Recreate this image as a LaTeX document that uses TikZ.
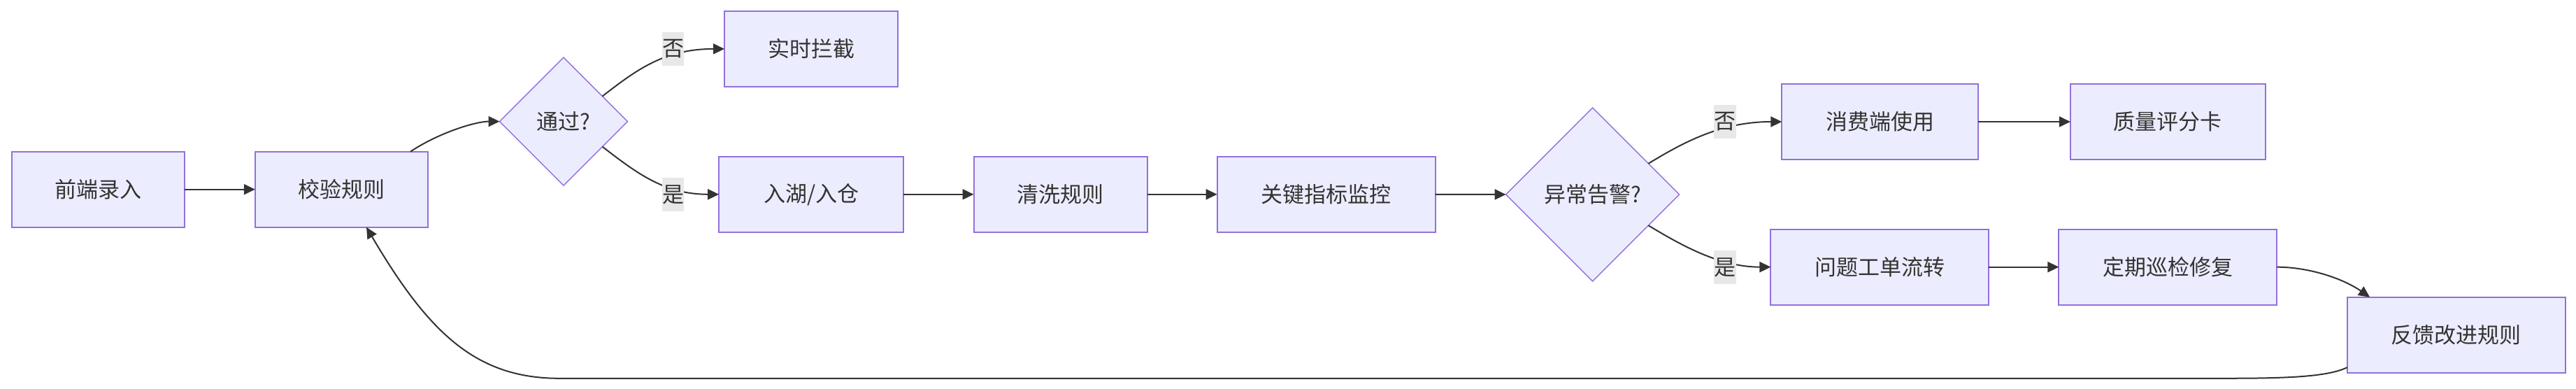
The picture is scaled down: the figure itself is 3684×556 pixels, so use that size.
\documentclass[tikz,border=0pt]{standalone}
\usepackage{fontspec}
\setmainfont{Noto Sans CJK SC}
\usetikzlibrary{shapes.geometric,arrows.meta}
\definecolor{mfill}{HTML}{ECECFF}
\definecolor{mborder}{HTML}{9370DB}
\definecolor{mline}{HTML}{333333}
\definecolor{mlabel}{HTML}{E8E8E8}
\begin{document}
\begin{tikzpicture}[x=1pt,y=-1pt,
  txt/.style={text=mline, font=\fontsize{31}{37}\selectfont},
  box/.style={txt, draw=mborder, fill=mfill, line width=2pt, minimum height=108pt, inner sep=0pt, outer sep=0pt},
  decision/.style={txt, diamond, aspect=1, draw=mborder, fill=mfill, line width=1.5pt, inner sep=0pt, outer sep=0pt},
  edgelbl/.style={txt, fill=mlabel, inner xsep=0pt, inner ysep=0pt, minimum width=31.5pt, minimum height=48pt},
  flow/.style={draw=mline, line width=2pt, -{Triangle[length=16pt,width=15pt]}}
]
\path[use as bounding box] (0,0) rectangle (3684,556);

% nodes
\node[box, minimum width=247pt] (A) at (140,270.7) {前端录入};
\node[box, minimum width=247pt] (B) at (488.3,270.7) {校验规则};
\node[decision, minimum width=183pt, minimum height=183pt] (C) at (806,173.6) {通过?};
\node[box, minimum width=248pt] (D) at (1160,69.9) {实时拦截};
\node[box, minimum width=264pt] (E) at (1160.2,277.8) {入湖/入仓};
\node[box, minimum width=248pt] (F) at (1516.5,277.8) {清洗规则};
\node[box, minimum width=312pt] (G) at (1896.6,277.8) {关键指标监控};
\node[decision, minimum width=248pt, minimum height=248pt] (H) at (2277.6,278) {异常告警?};
\node[box, minimum width=281pt] (I) at (2688.8,174) {消费端使用};
\node[box, minimum width=279pt] (J) at (3100.4,174) {质量评分卡};
\node[box, minimum width=312pt] (K) at (2688.4,381.7) {问题工单流转};
\node[box, minimum width=312pt] (L) at (3100.4,381.7) {定期巡检修复};
\node[box, minimum width=312pt] (M) at (3512.8,478.7) {反馈改进规则};

% edges
\draw[flow] (A.east) -- (B.west);
\draw[flow] ([xshift=98.7pt]B.north) .. controls (627,190) and (680,173.6) .. (C.west);
\draw[flow] (C.33) .. controls (910,100) and (950,69.9) .. (D.west);
\draw[flow] (C.-33) .. controls (910,247) and (950,277.8) .. (E.west);
\draw[flow] (E.east) -- (F.west);
\draw[flow] (F.east) -- (G.west);
\draw[flow] (G.east) -- (H.west);
\draw[flow] (H.29) .. controls (2405,205) and (2460,174) .. (I.west);
\draw[flow] (H.-29) .. controls (2405,351) and (2460,381.7) .. (K.west);
\draw[flow] (I.east) -- (J.west);
\draw[flow] (K.east) -- (L.west);
\draw[flow] (L.east) .. controls (3300,381.7) and (3349,397) .. ([xshift=32.3pt]M.north west);
\draw[flow] ([yshift=7.6pt]M.south west) .. controls (3325,540.8) and (3250,540.8) .. (3160,540.8)
  -- (800,540.8) .. controls (680,540.8) and (612.5,474.8) .. ([xshift=35.7pt]B.south);

% edge labels
\node[edgelbl] (l1) at (962.5,70) {否};
\node[edgelbl] (l2) at (962.5,278) {是};
\node[edgelbl] (l3) at (2467,173.8) {否};
\node[edgelbl] (l4) at (2467,382) {是};
\end{tikzpicture}
\end{document}
